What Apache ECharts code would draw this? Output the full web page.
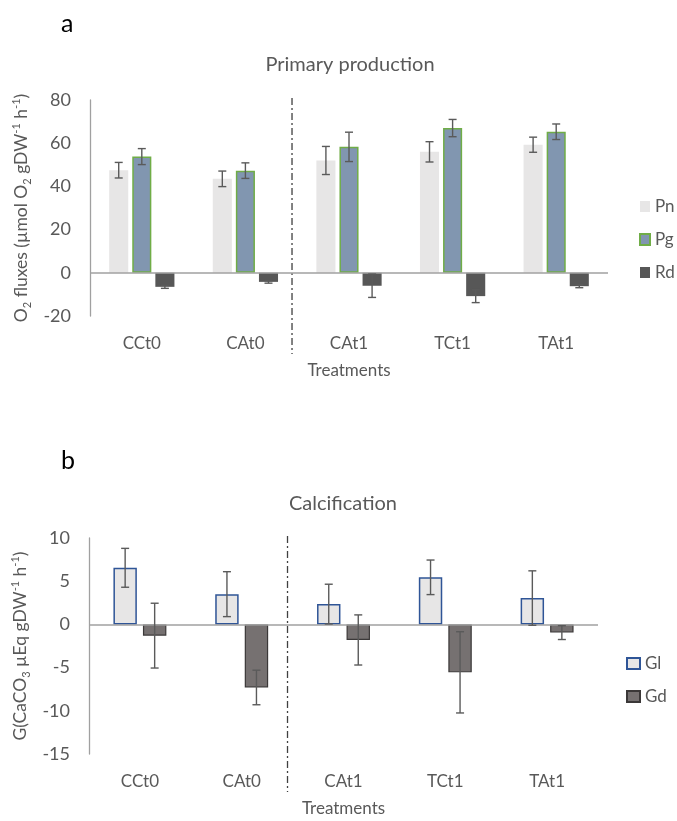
<!DOCTYPE html>
<html>
<head>
<meta charset="utf-8">
<script src="https://cdn.jsdelivr.net/npm/echarts@6/dist/echarts.min.js"></script>
<style>
  html, body { margin: 0; padding: 0; background: #fff; }
  #chart { width: 677px; height: 821px; }
</style>
</head>
<body>
<div id="chart"></div>
<script>
  // categories
  const treatments = ['CCt0', 'CAt0', 'CAt1', 'TCt1', 'TAt1'];

  // panel a - primary production (umol O2 gDW-1 h-1)
  const pnValues = [47.5, 43.5, 52.0, 56.0, 59.3];
  const pnErrors = [3.6, 3.6, 6.5, 4.7, 3.5];
  const pgValues = [53.8, 47.3, 58.3, 67.0, 65.3];
  const pgErrors = [3.7, 3.6, 6.8, 4.0, 3.6];
  const rdValues = [-6.5, -4.2, -6.0, -10.8, -6.2];
  const rdErrors = [0.7, 0.6, 5.4, 3.0, 0.7];
  const ticksA = [-20, 0, 20, 40, 60, 80];

  // panel b - calcification (CaCO3 uEq gDW-1 h-1)
  const glValues = [6.55, 3.5, 2.35, 5.45, 3.05];
  const glErrors = [2.25, 2.6, 2.3, 2.0, 3.15];
  const gdValues = [-1.3, -7.3, -1.8, -5.55, -0.95];
  const gdErrors = [3.75, 2.0, 2.9, 4.7, 0.8];
  const ticksB = [-15, -10, -5, 0, 5, 10];

  // the dash-dot separator sits between CAt0 and CAt1
  const dividerAfter = 1;

  const FONT = 'Lato, "Open Sans", sans-serif';
  const TXT = '#595959';
  const AXIS = '#a0a0a0';

  const gapA = { cat: 0.37, bar: 0.21, n: 3 };
  const gapB = { cat: 0.48, bar: 0.26, n: 2 };

  // error bars, centred on the matching bar of the group
  function errorSeries(values, errors, axis, idx, gap) {
    return {
      type: 'custom',
      xAxisIndex: axis,
      yAxisIndex: axis,
      z: 10,
      silent: true,
      data: values.map((v, i) => [i, v, errors[i]]),
      encode: { x: 0, y: 1 },
      renderItem(params, api) {
        const i = api.value(0), v = api.value(1), e = api.value(2);
        const band = api.size([1, 0])[0];
        const w = band * (1 - gap.cat) / (gap.n + (gap.n - 1) * gap.bar);
        const total = gap.n * w + (gap.n - 1) * gap.bar * w;
        const cx = api.coord([i, 0])[0] - total / 2 + idx * w * (1 + gap.bar) + w / 2;
        const y1 = api.coord([i, v + e])[1];
        const y2 = api.coord([i, v - e])[1];
        const st = { stroke: '#5a5a5a', lineWidth: 1.4 };
        return {
          type: 'group',
          children: [
            { type: 'line', shape: { x1: cx, y1: y1, x2: cx, y2: y2 }, style: st },
            { type: 'line', shape: { x1: cx - 4, y1: y1, x2: cx + 4, y2: y1 }, style: st },
            { type: 'line', shape: { x1: cx - 4, y1: y2, x2: cx + 4, y2: y2 }, style: st }
          ]
        };
      }
    };
  }

  // vertical dash-dot line between two treatment groups
  function dividerSeries(axis, ticks) {
    return {
      type: 'custom',
      xAxisIndex: axis,
      yAxisIndex: axis,
      silent: true,
      clip: false,
      data: [[dividerAfter, ticks[ticks.length - 1], ticks[0]]],
      encode: { x: 0, y: 1 },
      renderItem(params, api) {
        const i = api.value(0);
        const xa = api.coord([i, 0])[0];
        const xb = api.coord([i + 1, 0])[0];
        const x = xa + (xb - xa) * 0.45;
        const top = api.coord([i, api.value(1)])[1] - 2;
        const bottom = api.coord([i, api.value(2)])[1] + 38;
        return {
          type: 'line',
          shape: { x1: x, y1: top, x2: x, y2: bottom },
          style: { stroke: '#404040', lineWidth: 1.3, lineDash: [7, 3, 2, 3] }
        };
      }
    };
  }

  function zeroLine() {
    return {
      silent: true,
      symbol: 'none',
      label: { show: false },
      lineStyle: { color: AXIS, width: 1.5, type: 'solid' },
      data: [{ yAxis: 0 }]
    };
  }

  const rich = {
    sub: { fontSize: 11, fontFamily: FONT, color: TXT, verticalAlign: 'bottom', lineHeight: 12 },
    sup: { fontSize: 11, fontFamily: FONT, color: TXT, verticalAlign: 'top', lineHeight: 12 }
  };

  function xAxisCfg(grid) {
    return {
      type: 'category',
      gridIndex: grid,
      data: treatments,
      axisLine: { show: false, onZero: false },
      axisTick: { show: false },
      axisLabel: { color: TXT, fontSize: 17, fontFamily: FONT, margin: 19 },
      name: 'Treatments',
      nameLocation: 'middle',
      nameGap: 46,
      nameTextStyle: { color: TXT, fontSize: 17, fontFamily: FONT }
    };
  }

  function yAxisCfg(grid, ticks, name) {
    return {
      type: 'value',
      gridIndex: grid,
      min: ticks[0],
      max: ticks[ticks.length - 1],
      interval: ticks[1] - ticks[0],
      axisLine: { show: true, lineStyle: { color: AXIS, width: 1.3 } },
      axisTick: { show: false },
      splitLine: { show: false },
      axisLabel: { color: TXT, fontSize: 18, fontFamily: FONT, margin: 19 },
      name: name,
      nameLocation: 'middle',
      nameRotate: 90,
      nameGap: 56,
      nameTextStyle: { color: TXT, fontSize: 17.5, fontFamily: FONT, lineHeight: 22, rich: rich }
    };
  }

  const legendText = { color: TXT, fontSize: 17, fontFamily: FONT };

  const option = {
    animation: false,
    backgroundColor: '#ffffff',
    title: [
      { text: 'a', left: 56, top: 6, textStyle: { color: '#000', fontSize: 25, fontWeight: 'normal', fontFamily: FONT } },
      { text: 'Primary production', left: 345, top: 50, textAlign: 'center', textStyle: { color: TXT, fontSize: 20, fontWeight: 'normal', fontFamily: FONT } },
      { text: 'b', left: 56, top: 443, textStyle: { color: '#000', fontSize: 25, fontWeight: 'normal', fontFamily: FONT } },
      { text: 'Calcification', left: 338, top: 489, textAlign: 'center', textStyle: { color: TXT, fontSize: 20, fontWeight: 'normal', fontFamily: FONT } }
    ],
    legend: [
      {
        data: ['Pn', 'Pg', 'Rd'], orient: 'vertical', left: 639, top: 198, padding: 0,
        itemWidth: 10, itemHeight: 11, itemGap: 16, icon: 'rect', textStyle: legendText
      },
      {
        data: ['Gl', 'Gd'], orient: 'vertical', left: 626, top: 655, padding: 0,
        itemWidth: 13, itemHeight: 11, itemGap: 16, icon: 'rect', textStyle: legendText
      }
    ],
    grid: [
      { left: 90, right: 69, top: 100, height: 216 },
      { left: 89, right: 79, top: 538, height: 216 }
    ],
    xAxis: [xAxisCfg(0), xAxisCfg(1)],
    yAxis: [
      yAxisCfg(0, ticksA, 'O{sub|2} fluxes (µmol O{sub|2} gDW{sup|-1} h{sup|-1})'),
      yAxisCfg(1, ticksB, 'G(CaCO{sub|3} µEq gDW{sup|-1} h{sup|-1})')
    ],
    series: [
      {
        name: 'Pn', type: 'bar', xAxisIndex: 0, yAxisIndex: 0, data: pnValues,
        barCategoryGap: '37%', barGap: '21%',
        itemStyle: { color: '#e7e6e6' },
        markLine: zeroLine()
      },
      {
        name: 'Pg', type: 'bar', xAxisIndex: 0, yAxisIndex: 0, data: pgValues,
        itemStyle: { color: '#8196b0', borderColor: '#70ad47', borderWidth: 1.5 }
      },
      {
        name: 'Rd', type: 'bar', xAxisIndex: 0, yAxisIndex: 0, data: rdValues,
        itemStyle: { color: '#575757' }
      },
      errorSeries(pnValues, pnErrors, 0, 0, gapA),
      errorSeries(pgValues, pgErrors, 0, 1, gapA),
      errorSeries(rdValues, rdErrors, 0, 2, gapA),
      dividerSeries(0, ticksA),

      {
        name: 'Gl', type: 'bar', xAxisIndex: 1, yAxisIndex: 1, data: glValues,
        barCategoryGap: '48%', barGap: '26%',
        itemStyle: { color: '#e7e6e6', borderColor: '#2f5597', borderWidth: 1.5 },
        markLine: zeroLine()
      },
      {
        name: 'Gd', type: 'bar', xAxisIndex: 1, yAxisIndex: 1, data: gdValues,
        itemStyle: { color: '#767171', borderColor: '#3b3838', borderWidth: 1.2 }
      },
      errorSeries(glValues, glErrors, 1, 0, gapB),
      errorSeries(gdValues, gdErrors, 1, 1, gapB),
      dividerSeries(1, ticksB)
    ]
  };

  const myChart = echarts.init(document.getElementById('chart'));
  myChart.setOption(option);
  window.addEventListener('resize', () => { myChart.resize(); });
</script>
</body>
</html>
